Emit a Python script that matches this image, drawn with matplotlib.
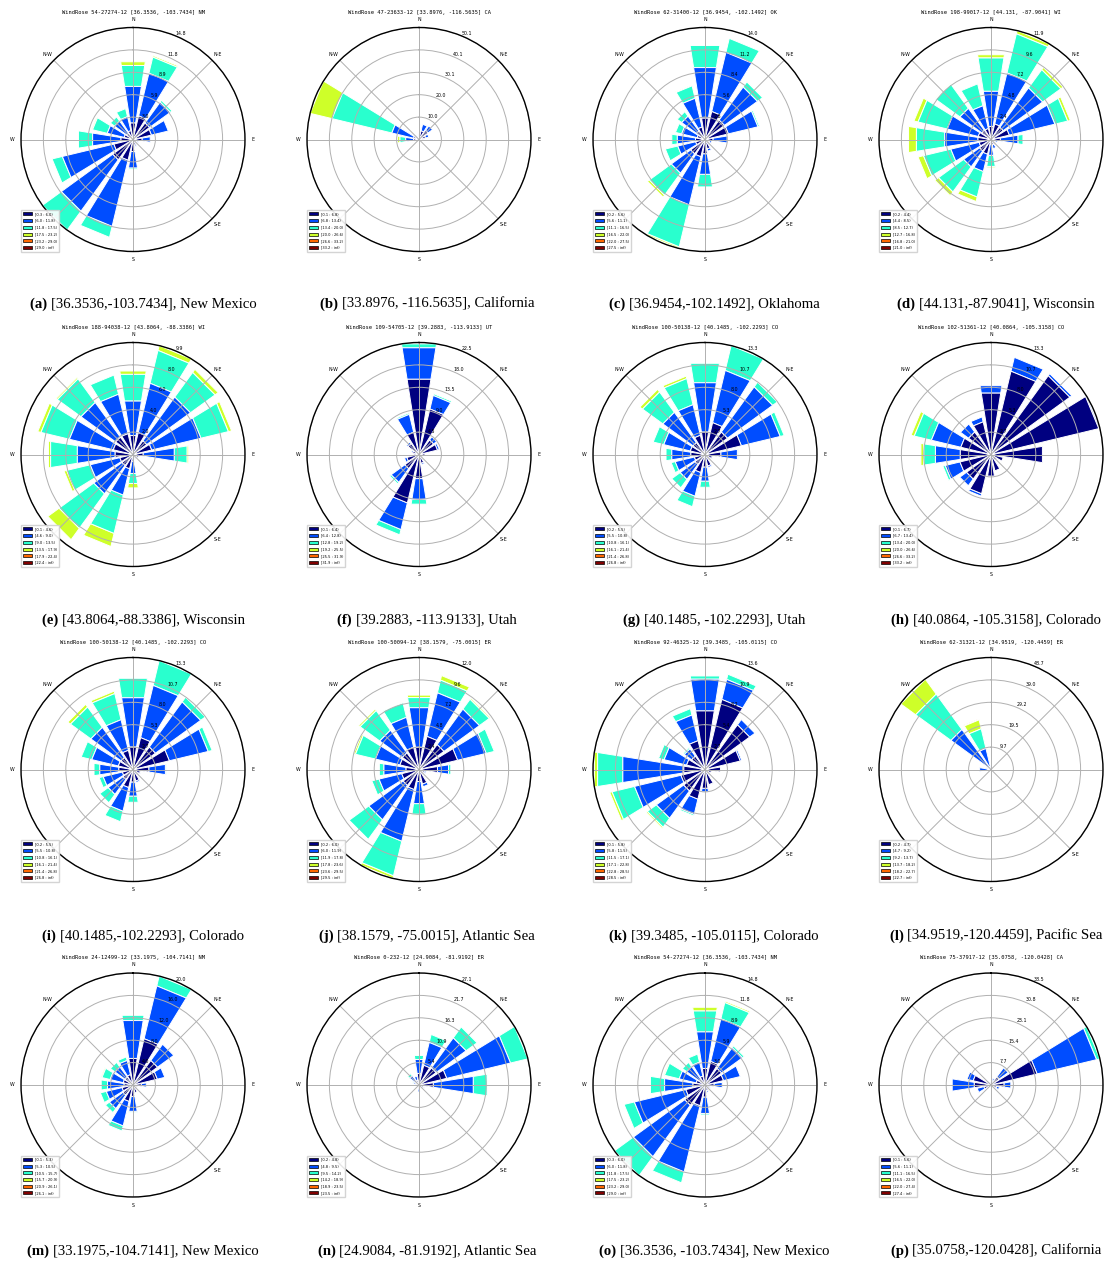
import numpy as np
import matplotlib
matplotlib.use("Agg")
import matplotlib.pyplot as plt
from matplotlib.patches import Rectangle

# Sector order: N, NNE, NE, ENE, E, ESE, SE, SSE, S, SSW, SW, WSW, W, WNW, NW, NNW
# Each rose: one row per speed bin (frequency in %), stacked outward.

rose_a = [
    [2.2, 3.2, 2.7, 2.5, 1.2, 0.6, 0.4, 0.8, 1.6, 2.8, 3.3, 2.6, 1.6, 1.2, 1.0, 1.2],
    [4.9, 5.8, 3.4, 2.3, 1.1, 0.2, 0.1, 0.2, 2.2, 9.0, 8.4, 7.0, 3.8, 2.3, 2.0, 1.9],
    [2.8, 2.2, 0.3, 0.0, 0.0, 0.0, 0.0, 0.0, 0.2, 1.5, 3.1, 1.4, 1.9, 2.0, 0.7, 1.1],
    [0.5, 0.2, 0.05, 0.0, 0.0, 0.0, 0.0, 0.0, 0.0, 0.0, 0.0, 0.0, 0.0, 0.15, 0.0, 0.0],
]
rose_b = [
    [2.0, 4.0, 5.0, 3.0, 1.5, 0.8, 0.5, 0.5, 0.5, 0.5, 0.8, 1.2, 2.5, 2.5, 1.2, 1.0],
    [0.5, 3.0, 2.5, 1.5, 0.5, 0.2, 0.1, 0.1, 0.1, 0.1, 0.3, 0.8, 3.5, 10.0, 0.8, 0.5],
    [0.0, 0.2, 0.3, 0.0, 0.0, 0.0, 0.0, 0.0, 0.0, 0.0, 0.0, 0.2, 2.6, 27.5, 0.2, 0.0],
    [0.0, 0.0, 0.0, 0.0, 0.0, 0.0, 0.0, 0.0, 0.0, 0.0, 0.0, 0.0, 1.1, 10.1, 0.0, 0.0],
]
rose_c = [
    [2.7, 3.6, 3.0, 3.0, 1.0, 0.6, 0.5, 1.2, 1.8, 2.2, 2.2, 1.2, 1.2, 1.0, 1.3, 1.6],
    [6.4, 7.6, 5.1, 3.8, 1.8, 0.3, 0.2, 0.3, 2.6, 6.2, 3.0, 2.3, 2.3, 2.0, 2.3, 3.7],
    [2.8, 1.8, 0.8, 0.2, 0.0, 0.0, 0.0, 0.0, 1.6, 5.4, 3.4, 1.6, 0.7, 0.8, 0.7, 1.6],
    [0.0, 0.0, 0.05, 0.0, 0.0, 0.0, 0.0, 0.0, 0.0, 0.2, 0.3, 0.0, 0.0, 0.0, 0.0, 0.1],
]
rose_d = [
    [1.4, 1.7, 1.6, 2.0, 1.0, 0.5, 0.4, 0.6, 0.5, 1.6, 1.5, 1.3, 1.4, 1.4, 1.2, 1.2],
    [3.8, 5.6, 5.2, 5.0, 1.9, 0.2, 0.1, 0.4, 1.2, 1.9, 2.1, 3.1, 3.6, 3.4, 2.9, 2.5],
    [3.6, 4.29, 2.4, 1.4, 0.55, 0.0, 0.0, 0.0, 1.2, 2.8, 3.3, 3.0, 3.05, 3.2, 3.2, 2.4],
    [0.35, 0.35, 0.3, 0.3, 0.0, 0.0, 0.0, 0.0, 0.15, 0.5, 0.5, 0.6, 0.85, 0.45, 0.1, 0.0],
]
rose_e = [
    [1.7, 2.0, 1.5, 1.7, 0.9, 0.5, 0.3, 0.4, 0.6, 1.3, 1.2, 1.2, 1.6, 1.8, 1.9, 1.9],
    [3.1, 4.5, 4.8, 4.5, 2.8, 0.1, 0.1, 0.1, 1.1, 2.4, 3.1, 2.7, 3.4, 4.0, 3.8, 3.6],
    [2.4, 3.0, 2.7, 2.5, 1.15, 0.0, 0.0, 0.0, 0.9, 3.5, 3.8, 2.15, 2.4, 2.6, 2.6, 1.75],
    [0.3, 0.44, 0.35, 0.3, 0.15, 0.0, 0.0, 0.0, 0.4, 1.2, 1.25, 0.25, 0.2, 0.3, 0.15, 0.0],
]
rose_f = [
    [15.3, 9.4, 3.6, 3.8, 1.2, 0.8, 0.5, 1.8, 4.9, 10.0, 3.5, 2.5, 1.0, 1.3, 2.7, 4.6],
    [6.4, 2.8, 0.8, 0.4, 0.2, 0.1, 0.0, 0.3, 4.2, 5.5, 3.4, 0.5, 0.2, 0.3, 0.4, 3.7],
    [0.8, 0.35, 0.2, 0.0, 0.0, 0.0, 0.0, 0.0, 1.0, 1.1, 0.4, 0.0, 0.0, 0.0, 0.0, 0.3],
    [0.0] * 16,
]
rose_g = [
    [2.7, 3.9, 3.3, 4.45, 1.9, 0.9, 0.5, 1.4, 1.5, 2.2, 1.45, 1.3, 1.7, 1.8, 1.75, 2.35],
    [5.95, 6.4, 6.65, 4.75, 2.0, 0.1, 0.0, 0.2, 1.7, 2.9, 2.2, 2.35, 2.3, 3.25, 4.45, 3.75],
    [2.35, 3.04, 0.7, 0.5, 0.1, 0.0, 0.0, 0.0, 0.75, 1.3, 1.25, 0.5, 0.7, 1.3, 3.0, 3.2],
    [0.0, 0.0, 0.0, 0.0, 0.0, 0.0, 0.0, 0.0, 0.0, 0.0, 0.0, 0.0, 0.0, 0.0, 0.4, 0.3],
]
rose_h = [
    [7.4, 10.2, 11.6, 13.2, 6.2, 1.5, 0.8, 2.0, 2.6, 4.8, 3.6, 3.8, 3.7, 3.7, 3.3, 4.0],
    [0.9, 1.7, 0.3, 0.14, 0.0, 0.0, 0.0, 0.0, 0.0, 0.3, 1.0, 1.8, 3.0, 3.6, 1.2, 0.6],
    [0.0, 0.0, 0.0, 0.0, 0.0, 0.0, 0.0, 0.0, 0.0, 0.0, 0.0, 0.3, 1.4, 2.1, 0.0, 0.0],
    [0.0, 0.0, 0.0, 0.0, 0.0, 0.0, 0.0, 0.0, 0.0, 0.0, 0.0, 0.0, 0.35, 0.4, 0.0, 0.0],
]
rose_j = [
    [2.4, 3.65, 3.3, 4.25, 2.0, 0.6, 0.5, 1.6, 1.3, 2.2, 2.1, 1.9, 1.4, 2.1, 2.2, 2.45],
    [4.3, 4.8, 4.7, 3.15, 1.2, 0.2, 0.1, 0.3, 2.4, 5.7, 4.55, 2.5, 2.4, 2.7, 3.0, 3.3],
    [1.1, 1.4, 1.3, 0.9, 0.25, 0.0, 0.0, 0.0, 1.15, 3.8, 2.6, 0.8, 0.5, 2.2, 2.6, 1.6],
    [0.27, 0.5, 0.15, 0.0, 0.0, 0.0, 0.0, 0.0, 0.1, 0.3, 0.0, 0.0, 0.0, 0.2, 0.2, 0.0],
]
rose_k = [
    [7.2, 8.75, 6.7, 4.4, 1.9, 0.8, 0.5, 1.9, 2.3, 3.7, 3.2, 3.0, 2.6, 2.3, 2.0, 3.6],
    [3.9, 2.5, 0.8, 0.2, 0.0, 0.0, 0.0, 0.1, 0.45, 1.9, 4.1, 5.8, 7.5, 2.8, 1.1, 3.2],
    [0.4, 0.65, 0.1, 0.0, 0.0, 0.0, 0.0, 0.0, 0.0, 0.2, 1.35, 2.8, 3.1, 0.7, 0.2, 0.8],
    [0.0, 0.0, 0.0, 0.0, 0.0, 0.0, 0.0, 0.0, 0.0, 0.0, 0.2, 0.3, 0.4, 0.0, 0.0, 0.0],
]
rose_l = [
    [0.5, 0.4, 0.5, 0.3, 0.3, 0.2, 0.2, 0.2, 0.2, 0.2, 0.3, 0.6, 1.5, 1.0, 1.0, 0.8],
    [0.3, 0.2, 0.3, 0.2, 0.1, 0.1, 0.0, 0.0, 0.1, 0.1, 0.1, 0.4, 3.5, 1.0, 20.5, 8.6],
    [0.0, 0.0, 0.0, 0.0, 0.0, 0.0, 0.0, 0.0, 0.0, 0.0, 0.0, 0.0, 0.0, 0.0, 19.0, 8.8],
    [0.0, 0.0, 0.0, 0.0, 0.0, 0.0, 0.0, 0.0, 0.0, 0.0, 0.0, 0.0, 0.0, 0.0, 8.0, 4.0],
    [0.0, 0.0, 0.0, 0.0, 0.0, 0.0, 0.0, 0.0, 0.0, 0.0, 0.0, 0.0, 0.0, 0.0, 0.2, 0.4],
]
rose_m = [
    [4.8, 8.5, 5.4, 4.45, 1.5, 0.8, 0.5, 1.4, 2.05, 3.0, 2.2, 2.0, 1.6, 1.8, 1.75, 1.9],
    [6.85, 9.7, 3.6, 1.4, 0.9, 0.0, 0.0, 0.0, 2.7, 4.5, 3.0, 2.9, 3.0, 2.4, 2.2, 2.6],
    [0.95, 1.8, 0.0, 0.0, 0.0, 0.0, 0.0, 0.0, 0.2, 0.95, 0.9, 1.1, 1.15, 1.5, 1.05, 0.65],
    [0.0, 0.0, 0.0, 0.0, 0.0, 0.0, 0.0, 0.0, 0.0, 0.0, 0.0, 0.0, 0.0, 0.2, 0.0, 0.0],
]
rose_n = [
    [2.8, 4.9, 5.1, 6.9, 3.5, 1.2, 0.6, 0.4, 0.8, 0.4, 0.4, 0.4, 0.5, 0.8, 1.0, 1.2],
    [3.45, 5.7, 9.0, 15.9, 9.8, 0.3, 0.0, 0.0, 0.9, 0.0, 0.0, 0.0, 0.0, 0.6, 1.8, 1.0],
    [1.0, 2.0, 3.3, 4.34, 3.4, 0.0, 0.0, 0.0, 0.0, 0.0, 0.0, 0.0, 0.0, 0.3, 0.6, 0.0],
]
rose_p = [
    [0.8, 1.5, 3.4, 16.3, 4.5, 2.0, 0.8, 0.5, 0.6, 0.5, 0.8, 2.5, 5.8, 6.3, 1.2, 0.8],
    [0.0, 0.8, 3.9, 21.0, 2.4, 1.0, 0.0, 0.0, 0.0, 0.0, 0.0, 2.4, 7.7, 2.2, 0.3, 0.0],
    [0.0, 0.0, 0.4, 1.2, 0.0, 0.0, 0.0, 0.0, 0.0, 0.0, 0.0, 0.0, 0.0, 0.0, 0.0, 0.0],
]

# Wind speed bin edges (legend ranges)
edges_a = [0.3, 6.0, 11.8, 17.5, 23.2, 29.0]
edges_b = [0.1, 6.8, 13.4, 20.0, 26.6, 33.2]
edges_c = [0.2, 5.6, 11.1, 16.5, 22.0, 27.5]
edges_d = [0.2, 4.4, 8.5, 12.7, 16.8, 21.0]
edges_e = [0.1, 4.6, 9.0, 13.5, 17.9, 22.4]
edges_f = [0.1, 6.4, 12.8, 19.2, 25.5, 31.9]
edges_g = [0.2, 5.5, 10.8, 16.1, 21.4, 26.8]
edges_h = [0.1, 6.7, 13.4, 20.0, 26.6, 33.2]
edges_j = [0.2, 6.0, 11.9, 17.8, 23.6, 29.5]
edges_k = [0.1, 5.8, 11.5, 17.1, 22.8, 28.5]
edges_l = [0.2, 4.7, 9.2, 13.7, 18.2, 22.7]
edges_m = [0.1, 5.3, 10.5, 15.7, 20.9, 26.1]
edges_n = [0.2, 4.8, 9.5, 14.2, 18.9, 23.5]
edges_p = [0.1, 5.6, 11.1, 16.5, 22.0, 27.4]

titles = [
    "WindRose 54-27274-12 [36.3536, -103.7434] NM",
    "WindRose 47-23633-12 [33.8976, -116.5635] CA",
    "WindRose 62-31400-12 [36.9454, -102.1492] OK",
    "WindRose 198-99017-12 [44.131, -87.9041] WI",
    "WindRose 188-94038-12 [43.8064, -88.3386] WI",
    "WindRose 109-54705-12 [39.2883, -113.9133] UT",
    "WindRose 100-50138-12 [40.1485, -102.2293] CO",
    "WindRose 102-51361-12 [40.0864, -105.3158] CO",
    "WindRose 100-50138-12 [40.1485, -102.2293] CO",
    "WindRose 100-50094-12 [38.1579, -75.0015] ER",
    "WindRose 92-46325-12 [39.3485, -105.0115] CO",
    "WindRose 62-31321-12 [34.9519, -120.4459] ER",
    "WindRose 24-12499-12 [33.1975, -104.7141] NM",
    "WindRose 0-232-12 [24.9084, -81.9192] ER",
    "WindRose 54-27274-12 [36.3536, -103.7434] NM",
    "WindRose 75-37917-12 [35.0758, -120.0428] CA",
]
tags = ["(a)", "(b)", "(c)", "(d)", "(e)", "(f)", "(g)", "(h)",
        "(i)", "(j)", "(k)", "(l)", "(m)", "(n)", "(o)", "(p)"]
captions = [
    "[36.3536,-103.7434], New Mexico",
    "[33.8976, -116.5635], California",
    "[36.9454,-102.1492], Oklahoma",
    "[44.131,-87.9041], Wisconsin",
    "[43.8064,-88.3386], Wisconsin",
    "[39.2883, -113.9133], Utah",
    "[40.1485, -102.2293], Utah",
    "[40.0864, -105.3158], Colorado",
    "[40.1485,-102.2293], Colorado",
    "[38.1579, -75.0015], Atlantic Sea",
    "[39.3485, -105.0115], Colorado",
    "[34.9519,-120.4459], Pacific Sea",
    "[33.1975,-104.7141], New Mexico",
    "[24.9084, -81.9192], Atlantic Sea",
    "[36.3536, -103.7434], New Mexico",
    "[35.0758,-120.0428], California",
]

panels = [
    (rose_a, edges_a), (rose_b, edges_b), (rose_c, edges_c), (rose_d, edges_d),
    (rose_e, edges_e), (rose_f, edges_f), (rose_g, edges_g), (rose_h, edges_h),
    (rose_g, edges_g), (rose_j, edges_j), (rose_k, edges_k), (rose_l, edges_l),
    (rose_m, edges_m), (rose_n, edges_n), (rose_a, edges_a), (rose_p, edges_p),
]

W, H = 1110, 1263
col_cx = [133, 419, 705, 991]
row_cy = [139.5, 454.5, 769.5, 1085]
cap_cx = [143, 427, 714, 996]
R = 112

colors = plt.cm.jet(np.linspace(0, 1, 6))
sector_deg = np.arange(16) * 22.5
# the S-W label sits under the legend box, so it is left blank
dirlabels = ["N", "N-E", "E", "S-E", "S", "", "W", "N-W"]

fig = plt.figure(figsize=(W / 100, H / 100), dpi=100)


def draw_rose(ax, table, edges):
    ax.set_theta_zero_location("N")
    ax.set_theta_direction(-1)
    table = np.asarray(table, dtype=float)
    dtheta = 2 * np.pi / 16
    opening = 0.8 * dtheta
    theta = np.radians(sector_deg)
    for j in range(16):
        offset = 0.0
        for i in range(table.shape[0]):
            val = table[i, j]
            if val > 0:
                ax.add_patch(Rectangle((theta[j] - opening / 2, offset), opening, val,
                                       facecolor=colors[i], edgecolor="white",
                                       linewidth=0.7, zorder=-1000 + 6 - i))
            offset += val
    rmax = table.sum(axis=0).max()
    ax.set_ylim(0, rmax)
    radii = np.linspace(0, rmax, 6)[1:]
    ax.set_rgrids(radii, labels=["%.1f" % r for r in radii], angle=22.5,
                  fontsize=3.4)
    ax.set_thetagrids(np.arange(0, 360, 45), labels=dirlabels, fontsize=3.4)
    ax.tick_params(axis="x", pad=-4.5)
    ax.grid(True, color="#b0b0b0", linewidth=0.7)
    ax.spines["polar"].set_linewidth(1.0)
    ax.spines["polar"].set_color("black")

    handles = [Rectangle((0, 0), 0.2, 0.2, facecolor=colors[i], edgecolor="black",
                         linewidth=0.5) for i in range(6)]
    labels = ["[%.1f : %.1f)" % (edges[i], edges[i + 1]) for i in range(5)]
    labels.append("[%.1f : inf)" % edges[5])
    ax.legend(handles, labels, loc="lower left", bbox_to_anchor=(0, 0),
              borderaxespad=0.0, fontsize=2.6, handlelength=2.6, handleheight=0.9,
              labelspacing=0.75, handletextpad=0.8, borderpad=0.5,
              fancybox=False, edgecolor="#d0d0d0", framealpha=0.9)


for k, (table, edges) in enumerate(panels):
    r, c = divmod(k, 4)
    cx, cy = col_cx[c], row_cy[r]
    ax = fig.add_axes([(cx - R) / W, (H - cy - R) / H, 2 * R / W, 2 * R / H],
                      projection="polar")
    draw_rose(ax, table, edges)
    fig.text(cx / W, 1 - (cy - 127) / H, titles[k], ha="center", va="center",
             fontsize=3.9, family="DejaVu Sans Mono")

# Sub-captions: bold tag followed by the location text, centred as a unit
renderer = fig.canvas.get_renderer()
cap_y = [304, 620, 936, 1251]
for k in range(16):
    r, c = divmod(k, 4)
    y = 1 - cap_y[r] / H
    t1 = fig.text(0, y, tags[k] + " ", ha="left", va="center", fontsize=10.6,
                  family="Liberation Serif", fontweight="bold")
    t2 = fig.text(0, y, captions[k], ha="left", va="center", fontsize=10.6,
                  family="Liberation Serif")
    w1 = t1.get_window_extent(renderer).width
    w2 = t2.get_window_extent(renderer).width
    x0 = cap_cx[c] - (w1 + w2) / 2
    t1.set_x(x0 / W)
    t2.set_x((x0 + w1) / W)

fig.savefig("out.png", dpi=100)
